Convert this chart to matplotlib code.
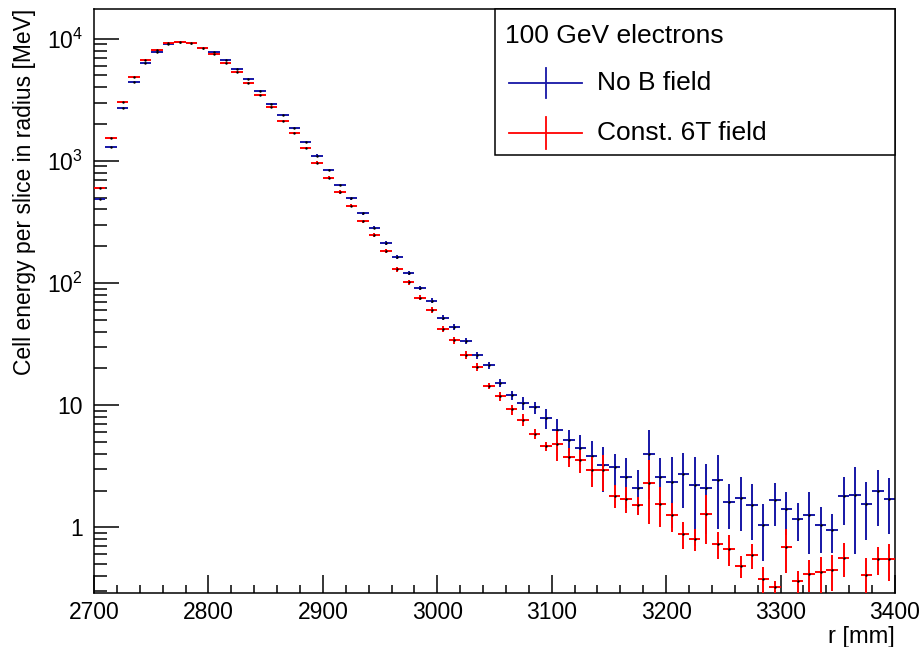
"""
Radial profile of cell energy for 100 GeV electrons, with and without a 6T field.
"""
import numpy as np
import matplotlib
matplotlib.use("Agg")
import matplotlib.pyplot as plt
from matplotlib.ticker import FixedLocator, FuncFormatter, MultipleLocator, LogLocator, NullFormatter
from matplotlib.lines import Line2D
from matplotlib.patches import Rectangle

plt.rcParams["font.family"] = ["Liberation Sans", "DejaVu Sans"]
plt.rcParams["mathtext.fontset"] = "custom"
plt.rcParams["mathtext.rm"] = "Liberation Sans"
plt.rcParams["mathtext.it"] = "Liberation Sans:italic"

# -------------------- Data --------------------
r_min, bin_width, n_bins = 2700, 10, 70

no_field = [488, 1303, 2704, 4444, 6322, 7778, 9057, 9330, 9150, 8400,
            7724, 6640, 5600, 4700, 3750, 2932, 2384, 1854, 1431, 1105,
            844, 635, 495, 373, 284, 212, 162, 121, 91, 71.6,
            52, 43.8, 33.7, 25.6, 21.2, 15.3, 12.1, 10.4, 9.6, 7.78,
            6.21, 5.17, 4.47, 3.87, 3.24, 3.09, 2.57, 2.10, 3.97, 2.57,
            2.37, 2.73, 2.22, 2.09, 2.43, 1.61, 1.75, 1.52, 1.04, 1.66,
            1.40, 1.17, 1.27, 1.04, 0.957, 1.81, 1.85, 1.56, 1.98, 1.71]
no_field_err = [10, 20, 35, 50, 60, 70, 75, 80, 80, 75,
                70, 65, 60, 55, 50, 45, 40, 35, 30, 25,
                21, 17, 14, 11, 9, 7.5, 6, 4.8, 3.8, 3.2,
                2.6, 2.2, 1.9, 1.6, 1.4, 1.2, 1.0, 1.2, 1.1, 1.44,
                1.46, 1.08, 1.21, 1.23, 1.31, 0.92, 1.13, 0.83, 2.27, 1.11,
                1.38, 1.30, 1.52, 1.20, 1.46, 0.64, 0.82, 0.73, 0.51, 0.63,
                0.54, 0.40, 0.66, 0.42, 0.34, 0.77, 1.25, 0.77, 0.95, 0.82]

field_6t = [597, 1552, 3028, 4853, 6686, 8128, 9220, 9450, 9270, 8390,
            7540, 6322, 5333, 4303, 3429, 2755, 2138, 1698, 1278, 968,
            730, 557, 430, 320, 246, 183, 130, 102, 76, 60,
            42.2, 33.9, 25.7, 20.5, 14.4, 11.8, 9.22, 7.61, 5.84, 4.61,
            4.79, 3.77, 3.54, 2.93, 2.93, 1.82, 1.72, 1.51, 2.31, 1.56,
            1.25, 0.881, 0.80, 1.28, 0.73, 0.669, 0.485, 0.597, 0.375, 0.322,
            0.695, 0.363, 0.417, 0.430, 0.444, 0.565, np.nan, 0.41, 0.547, 0.547]
field_6t_err = [12, 25, 40, 55, 65, 75, 80, 80, 80, 75,
                70, 65, 60, 55, 50, 45, 40, 35, 30, 25,
                21, 17, 14, 11, 9, 7.5, 6, 4.8, 3.8, 3.2,
                2.5, 2.1, 1.8, 1.5, 0.9, 1.0, 0.9, 0.9, 0.55, 0.37,
                1.3, 0.67, 0.74, 0.81, 0.96, 0.39, 0.41, 0.25, 1.24, 0.56,
                0.33, 0.22, 0.16, 0.55, 0.18, 0.19, 0.10, 0.14, 0.095, 0.045,
                0.27, 0.08, 0.12, 0.14, 0.145, 0.175, np.nan, 0.15, 0.14, 0.18]

r_centers = r_min + bin_width * (np.arange(n_bins) + 0.5)

BLUE = "#1616a6"
RED = "#ff0000"

# -------------------- Plot --------------------
fig = plt.figure(figsize=(9.24, 6.47), dpi=100)
ax = fig.add_axes([94 / 924, 1 - 593 / 647, 801 / 924, 584 / 647])

for vals, errs, col, z in [(no_field, no_field_err, BLUE, 2), (field_6t, field_6t_err, RED, 3)]:
    ax.errorbar(r_centers, vals, yerr=errs, xerr=bin_width / 2, fmt=".", color="black",
                ms=1.5, ecolor=col, elinewidth=1.4, capsize=0, zorder=z)

ax.set_yscale("log")
ax.set_xlim(2700, 3400)
ax.set_ylim(0.29, 1.75e4)

ax.xaxis.set_major_locator(MultipleLocator(100))
ax.xaxis.set_minor_locator(MultipleLocator(20))
ax.yaxis.set_major_locator(FixedLocator([1, 10, 100, 1000, 10000]))
ax.yaxis.set_minor_locator(LogLocator(base=10, subs=np.arange(2, 10)))
ax.yaxis.set_minor_formatter(NullFormatter())


def log_label(v, pos):
    e = int(round(np.log10(v)))
    if e == 0:
        return "1"
    if e == 1:
        return "10"
    return r"$10^{%d}$" % e


ax.yaxis.set_major_formatter(FuncFormatter(log_label))

ax.tick_params(axis="both", which="both", direction="in", top=False, right=False, width=1.1)
ax.tick_params(axis="x", which="major", length=13, pad=6, labelsize=16.5)
ax.tick_params(axis="x", which="minor", length=5.8)
ax.tick_params(axis="y", which="major", length=18, pad=8, labelsize=16.5)
ax.tick_params(axis="y", which="minor", length=9.4)
for s in ax.spines.values():
    s.set_linewidth(1.1)

ax.set_xlabel("r [mm]", fontsize=17, ha="right", va="top")
ax.xaxis.set_label_coords(1.0, -0.057)
ax.set_ylabel("Cell energy per slice in radius [MeV]", loc="top", fontsize=16.5, labelpad=8)

# -------------------- Legend box --------------------
tr = ax.transAxes
ax.add_patch(Rectangle((0.5006, 0.75), 0.4994, 0.25, transform=tr, fill=True,
                       facecolor="white", edgecolor="black", lw=1.1, zorder=5, clip_on=False))
ax.text(0.513, 0.9545, "100 GeV electrons", transform=tr, fontsize=19, va="center", ha="left", zorder=6)
for yc, dy, col, lab in [(0.8733, 0.026, BLUE, "No B field"), (0.7877, 0.0275, RED, "Const. 6T field")]:
    ax.add_line(Line2D([0.518, 0.609], [yc, yc], transform=tr, color=col, lw=1.3, zorder=6))
    ax.add_line(Line2D([0.5637, 0.5637], [yc - dy, yc + dy], transform=tr, color=col, lw=1.3, zorder=6))
    ax.text(0.628, yc, lab, transform=tr, fontsize=19, va="center", ha="left", zorder=6)

plt.savefig("out.png", dpi=100)
